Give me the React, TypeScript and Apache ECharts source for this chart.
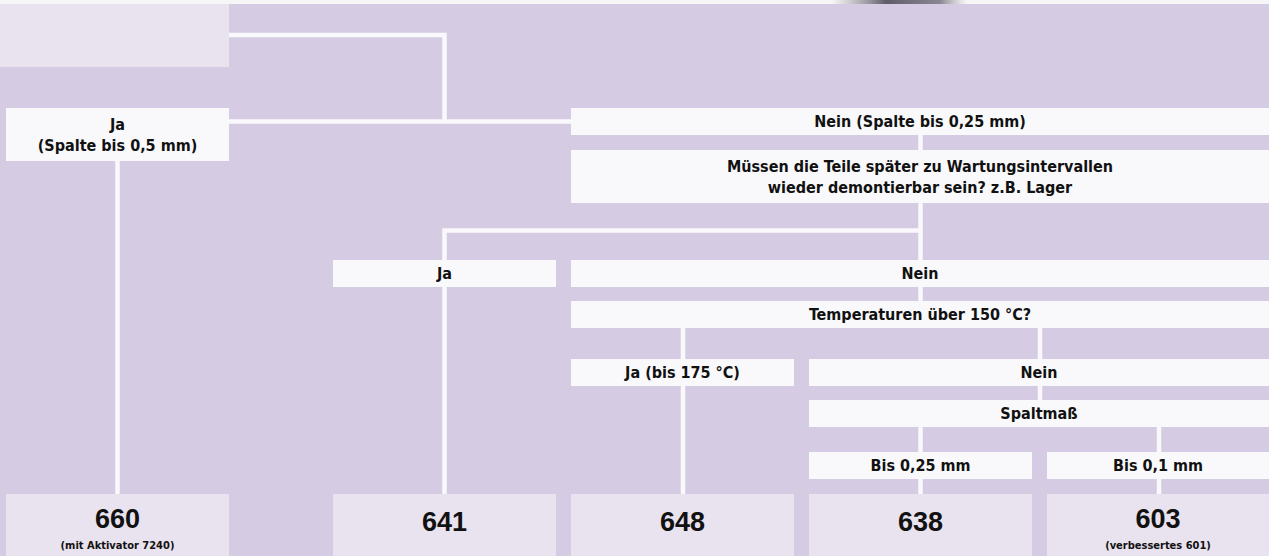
import React, { useEffect, useRef } from "react";
import * as echarts from "echarts";

const W = 1269;
const H = 556;

// Decision labels (box texts)
const nodeLabels: string[] = [
  "",
  "Ja\n(Spalte bis 0,5 mm)",
  "Nein (Spalte bis 0,25 mm)",
  "Müssen die Teile später zu Wartungsintervallen\nwieder demontierbar sein? z.B. Lager",
  "Ja",
  "Nein",
  "Temperaturen über 150 °C?",
  "Ja (bis 175 °C)",
  "Nein",
  "Spaltmaß",
  "Bis 0,25 mm",
  "Bis 0,1 mm",
];
// Result products
const productCodes: string[] = ["660", "641", "648", "638", "603"];
const productNotes: string[] = ["(mit Aktivator 7240)", "", "", "", "(verbessertes 601)"];

// Layout grid (pixel units of the diagram plane)
const nodeBoxes: number[][] = [
  [0, 229, 4, 67],
  [6, 229, 108, 161],
  [571, 1269, 108, 135],
  [571, 1269, 150, 203],
  [333, 556, 260, 287],
  [571, 1269, 260, 287],
  [571, 1269, 301, 328],
  [571, 794, 359, 386],
  [809, 1269, 359, 386],
  [809, 1269, 400, 427],
  [809, 1032, 452, 479],
  [1047, 1269, 452, 479],
];
const productBoxes: number[][] = [
  [6, 229, 494, 560],
  [333, 556, 494, 560],
  [571, 794, 494, 560],
  [809, 1032, 494, 560],
  [1047, 1269, 494, 560],
];
const connectors: number[][][] = [
  [[229, 35], [444.5, 35], [444.5, 121.5]],
  [[229, 121.5], [571, 121.5]],
  [[117.5, 161], [117.5, 494]],
  [[920.5, 135], [920.5, 150]],
  [[920.5, 203], [920.5, 260]],
  [[920.5, 230.5], [444.5, 230.5], [444.5, 260]],
  [[444.5, 287], [444.5, 494]],
  [[920.5, 287], [920.5, 301]],
  [[683, 328], [683, 359]],
  [[1040, 328], [1040, 359]],
  [[683, 386], [683, 494]],
  [[1040, 386], [1040, 400]],
  [[920.5, 427], [920.5, 452]],
  [[1159, 427], [1159, 452]],
  [[920.5, 479], [920.5, 494]],
  [[1159, 479], [1159, 494]],
];

const BG = "#d5cbe3";
const WHITE = "#f9f9fc";
const LIGHT = "#e9e2ef";
const FONT = "'Liberation Sans Narrow', 'DejaVu Sans Condensed', Roboto, sans-serif";
const NUM_FONT = "'Liberation Sans', Arial, sans-serif";

export default function App() {
  const ref = useRef<HTMLDivElement>(null);
  useEffect(() => {
    document.body.style.margin = "0";
    const chart = echarts.init(ref.current!, null, { renderer: "svg" });
    const option: any = {
      animation: false,
      backgroundColor: BG,
      grid: { left: 0, right: 0, top: 0, bottom: 0 },
      xAxis: { type: "value", min: 0, max: W, show: false },
      yAxis: { type: "value", min: 0, max: H, inverse: true, show: false },
      graphic: [
        { type: "rect", shape: { x: 0, y: 0, width: W, height: 4 }, style: { fill: "#f6f6f6" }, z: 10 },
        {
          type: "rect",
          shape: { x: 832, y: 0, width: 135, height: 4 },
          style: {
            fill: new echarts.graphic.LinearGradient(0, 0, 1, 0, [
              { offset: 0, color: "rgba(120,120,130,0)" },
              { offset: 0.4, color: "rgba(80,75,90,0.9)" },
              { offset: 0.8, color: "rgba(110,105,120,0.8)" },
              { offset: 1, color: "rgba(150,150,160,0)" },
            ]),
          },
          z: 11,
        },
      ],
      series: [
        {
          type: "lines",
          coordinateSystem: "cartesian2d",
          polyline: true,
          silent: true,
          z: 1,
          lineStyle: { color: WHITE, width: 4.5, opacity: 1 },
          data: connectors.map((c) => ({ coords: c })),
        },
        {
          type: "custom",
          z: 2,
          silent: true,
          data: nodeBoxes.map((b, i) => [b[0], b[1], b[2], b[3], i]),
          renderItem: (params: any, api: any) => {
            const i = params.dataIndex;
            const p0 = api.coord([api.value(0), api.value(2)]);
            const p1 = api.coord([api.value(1), api.value(3)]);
            return {
              type: "group",
              children: [
                {
                  type: "rect",
                  shape: { x: p0[0], y: p0[1], width: p1[0] - p0[0], height: p1[1] - p0[1] },
                  style: { fill: i === 0 ? LIGHT : WHITE },
                },
                {
                  type: "text",
                  style: {
                    text: nodeLabels[i],
                    x: (p0[0] + p1[0]) / 2,
                    y: (p0[1] + p1[1]) / 2,
                    align: "center",
                    verticalAlign: "middle",
                    fontFamily: FONT,
                    fontWeight: "bold",
                    fontSize: 16,
                    lineHeight: 21,
                    fill: "#111",
                  },
                },
              ],
            };
          },
        },
        {
          type: "custom",
          z: 2,
          silent: true,
          data: productBoxes.map((b, i) => [b[0], b[1], b[2], b[3], i]),
          renderItem: (params: any, api: any) => {
            const i = params.dataIndex;
            const p0 = api.coord([api.value(0), api.value(2)]);
            const p1 = api.coord([api.value(1), api.value(3)]);
            const cx = (p0[0] + p1[0]) / 2;
            const hasNote = productNotes[i] !== "";
            return {
              type: "group",
              children: [
                {
                  type: "rect",
                  shape: { x: p0[0], y: p0[1], width: p1[0] - p0[0], height: p1[1] - p0[1] },
                  style: { fill: LIGHT },
                },
                {
                  type: "text",
                  style: {
                    text: productCodes[i],
                    x: cx,
                    y: p0[1] + (hasNote ? 25 : 28),
                    align: "center",
                    verticalAlign: "middle",
                    fontFamily: NUM_FONT,
                    fontWeight: "bold",
                    fontSize: 27,
                    fill: "#111",
                  },
                },
                {
                  type: "text",
                  style: {
                    text: productNotes[i],
                    x: cx,
                    y: p0[1] + 51,
                    align: "center",
                    verticalAlign: "middle",
                    fontFamily: FONT,
                    fontWeight: "bold",
                    fontSize: 11,
                    fill: "#111",
                  },
                },
              ],
            };
          },
        },
      ],
    };
    chart.setOption(option);
    return () => chart.dispose();
  }, []);
  return <div ref={ref} style={{ width: W, height: H }} />;
}
